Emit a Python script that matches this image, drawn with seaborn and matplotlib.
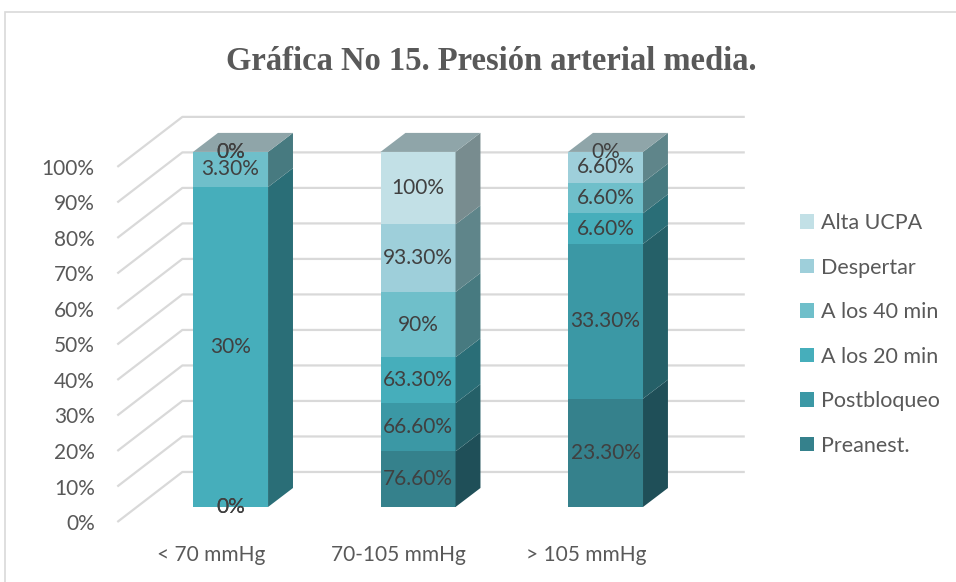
import numpy as np
import pandas as pd
import seaborn as sns
import matplotlib.pyplot as plt
from matplotlib.patches import Polygon, Rectangle, Patch

sns.set_theme(style="white")
plt.rcParams['font.family'] = ['Lato', 'DejaVu Sans']

# data (values as printed on the chart, bars are shown as 100% stacked)
categories = ["< 70 mmHg", "70-105 mmHg", "> 105 mmHg"]
series = ["Preanest.", "Postbloqueo", "A los 20 min", "A los 40 min", "Despertar", "Alta UCPA"]
preanest = [0, 76.6, 23.3]
postbloqueo = [0, 66.6, 33.3]
a_20_min = [30, 63.3, 6.6]
a_40_min = [3.3, 90, 6.6]
despertar = [0, 93.3, 6.6]
alta_ucpa = [0, 100, 0]

front_colors = ["#35818C", "#3B98A5", "#46AEBB", "#6FBFCA", "#9ECFDA", "#C2E0E6"]
side_colors = ["#1F4F58", "#256068", "#2A6E77", "#477A80", "#5F858A", "#788C8F"]
top_color = "#8FA5A9"
grid_color = "#D9D9D9"
text_color = "#404040"

values = np.array([preanest, postbloqueo, a_20_min, a_40_min, despertar, alta_ucpa], dtype=float)
totals = values.sum(axis=0)
pct = values / totals * 100

# pseudo 3D offsets (data units)
bar_w = 0.4
depth_dx, depth_dy = 0.133, 5.35
wall_dx, wall_dy = 0.243, 9.86
front_dx, front_dy = -0.104, -4.23

fig = plt.figure(figsize=(9.56, 5.82), dpi=100)
fig.patches.append(Rectangle((5 / 956, -0.1), 1.2, 1.1 - 12 / 582, transform=fig.transFigure,
                             fill=False, edgecolor=grid_color, linewidth=1.2))
ax = fig.add_axes([110 / 956, 52 / 582, 650 / 956, 420 / 582])

# gridlines: front-left diagonal + back wall
levels = np.arange(0, 101, 10)
for lv in levels:
    ax.plot([-0.5 + front_dx, -0.5 + wall_dx, 2.5 + wall_dx],
            [lv + front_dy, lv + wall_dy, lv + wall_dy],
            color=grid_color, linewidth=1.6, zorder=0, solid_capstyle="butt")

bottoms = np.zeros(len(categories))
xs = np.arange(len(categories))
for i, name in enumerate(series):
    df = pd.DataFrame({"cat": categories, "pct": pct[i]})
    sns.barplot(data=df, x="cat", y="pct", order=categories, color=front_colors[i],
                width=bar_w, bottom=bottoms.copy(), errorbar=None, saturation=1,
                linewidth=0, ax=ax, zorder=2)
    for j in range(len(categories)):
        x1 = xs[j] + bar_w / 2
        y0 = bottoms[j]
        y1 = bottoms[j] + pct[i][j]
        if pct[i][j] > 0:
            ax.add_patch(Polygon([(x1, y0), (x1 + depth_dx, y0 + depth_dy),
                                  (x1 + depth_dx, y1 + depth_dy), (x1, y1)],
                                 closed=True, facecolor=side_colors[i], edgecolor="none", zorder=2))
    bottoms += pct[i]

# top faces
for j in range(len(categories)):
    x0, x1 = xs[j] - bar_w / 2, xs[j] + bar_w / 2
    t = bottoms[j]
    ax.add_patch(Polygon([(x0, t), (x0 + depth_dx, t + depth_dy),
                          (x1 + depth_dx, t + depth_dy), (x1, t)],
                         closed=True, facecolor=top_color, edgecolor="none", zorder=2))

# data labels
def fmt(v):
    return f"{int(v)}%" if float(v).is_integer() else f"{v:.2f}%"

cum = np.zeros(len(categories))
for i in range(len(series)):
    for j in range(len(categories)):
        ax.text(xs[j], cum[j] + pct[i][j] / 2, fmt(values[i][j]), ha="center", va="center",
                fontsize=15, color=text_color, zorder=5)
    cum += pct[i]

ax.set_xlim(-0.643, 2.824)
ax.set_ylim(-6.48, 111.8)
ax.set_yticks(levels + front_dy, [f"{lv}%" for lv in levels])
ax.set_xticks(xs + front_dx, categories)
ax.tick_params(axis="y", length=0, pad=11, labelsize=15, labelcolor="#595959")
ax.tick_params(axis="x", length=0, pad=11, labelsize=15, labelcolor="#595959")
ax.set_xlabel("")
ax.set_ylabel("")
for s in ax.spines.values():
    s.set_visible(False)
ax.set_facecolor("none")

handles = [Patch(facecolor=front_colors[i], edgecolor="none", label=series[i])
           for i in range(len(series))][::-1]
fig.legend(handles=handles, loc="upper left", bbox_to_anchor=(800 / 956, 1 - 213 / 582),
           frameon=False, fontsize=15.5, labelcolor="#595959", handlelength=0.65,
           handleheight=0.65, handletextpad=0.33, labelspacing=1.14,
           borderpad=0, borderaxespad=0)

fig.text(491 / 956, 1 - 61 / 582, "Gráfica No 15. Presión arterial media.", ha="center",
         va="center", fontsize=23.5, fontweight="bold", color="#595959",
         family=["Liberation Serif", "DejaVu Serif"])

fig.savefig("out.png", dpi=100)
